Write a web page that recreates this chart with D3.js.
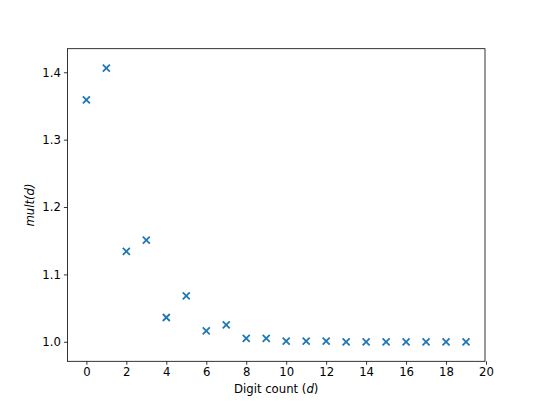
<!DOCTYPE html>
<html>
<head>
<meta charset="utf-8">
<script src="https://cdn.jsdelivr.net/npm/d3@7"></script>
<style>
  body { margin: 0; background: #fff; }
  svg text { font-family: "DejaVu Sans", sans-serif; }
</style>
</head>
<body>
<div id="root"></div>
<script>
const digits = [0, 1, 2, 3, 4, 5, 6, 7, 8, 9, 10, 11, 12, 13, 14, 15, 16, 17, 18, 19];
const mult = [1.359, 1.406, 1.134, 1.151, 1.036, 1.068, 1.016, 1.025, 1.005, 1.005,
              1.001, 1.001, 1.001, 1.000, 1.000, 1.000, 1.000, 1.000, 1.000, 1.000];
const xTicks = [0, 2, 4, 6, 8, 10, 12, 14, 16, 18, 20];
const yTicks = [1.0, 1.1, 1.2, 1.3, 1.4];

const W = 539, H = 406;
const margin = { top: 48.7, right: 54, bottom: 44.7, left: 67.4 };
const width = W - margin.left - margin.right;
const height = H - margin.top - margin.bottom;
const color = "#1f77b4";

const svg = d3.select("#root").append("svg")
  .attr("width", W)
  .attr("height", H);

const g = svg.append("g")
  .attr("transform", "translate(" + margin.left + "," + margin.top + ")");

const x = d3.scaleLinear().domain([-0.95, 19.95]).range([0, width]);
const y = d3.scaleLinear().domain([0.971, 1.435]).range([height, 0]);

// axes
const xAxis = g.append("g")
  .attr("transform", "translate(0," + height + ")")
  .call(d3.axisBottom(x).tickValues(xTicks).tickFormat(d3.format("d")).tickSize(3.5).tickPadding(3));
const yAxis = g.append("g")
  .call(d3.axisLeft(y).tickValues(yTicks).tickFormat(d3.format(".1f")).tickSize(3.5).tickPadding(3));

[xAxis, yAxis].forEach(a => {
  a.select(".domain").remove();
  a.selectAll(".tick line").attr("stroke", "#000").attr("stroke-width", 0.8);
  a.selectAll(".tick text").attr("fill", "#000").style("font-size", "11.7px");
});

// frame
g.append("rect")
  .attr("width", width)
  .attr("height", height)
  .attr("fill", "none")
  .attr("stroke", "#000")
  .attr("stroke-width", 0.8);

// x markers
const r = 3.5;
const pts = g.selectAll(".pt")
  .data(digits.map((d, i) => ({ d: d, m: mult[i] })))
  .enter().append("path")
  .attr("class", "pt")
  .attr("d", p => {
    const cx = x(p.d), cy = y(p.m);
    return "M" + (cx - r) + "," + (cy - r) + "L" + (cx + r) + "," + (cy + r) +
      "M" + (cx - r) + "," + (cy + r) + "L" + (cx + r) + "," + (cy - r);
  })
  .attr("stroke", color)
  .attr("stroke-width", 1.8)
  .attr("fill", "none");

// labels
const xl = svg.append("text")
  .attr("x", margin.left + width / 2)
  .attr("y", 393)
  .attr("text-anchor", "middle")
  .style("font-size", "11.7px");
xl.append("tspan").text("Digit count (");
xl.append("tspan").attr("font-style", "italic").text("d");
xl.append("tspan").text(")");

svg.append("text")
  .attr("transform", "translate(34," + (margin.top + height / 2) + ") rotate(-90)")
  .attr("text-anchor", "middle")
  .attr("font-style", "italic")
  .style("font-size", "11.7px")
  .text("mult(d)");
</script>
</body>
</html>
